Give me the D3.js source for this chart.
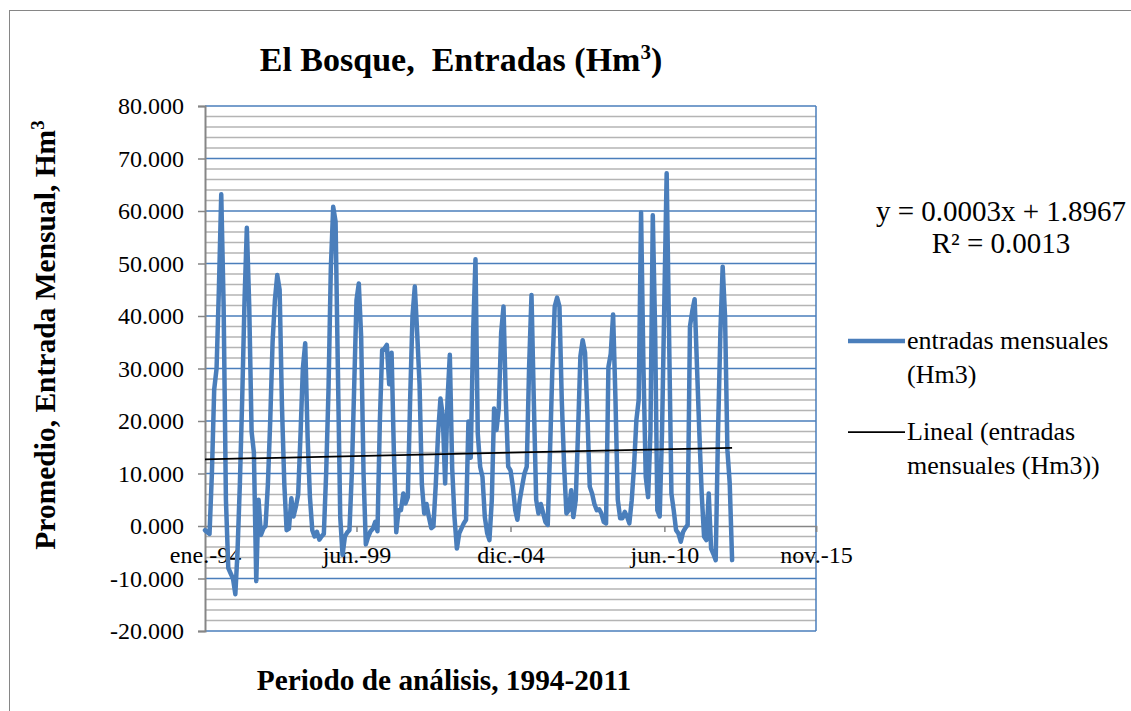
<!DOCTYPE html>
<html>
<head>
<meta charset="utf-8">
<script src="https://cdn.jsdelivr.net/npm/d3@7"></script>
<style>
body{margin:0;background:#fff;}
svg text{font-family:"Liberation Serif","Times New Roman",serif;fill:#000;}
</style>
</head>
<body>
<div class="chart"></div>
<script>
var width = 1131,
    height = 711;
var serif = '"Liberation Serif", "Times New Roman", serif';

// monthly inflow, from ene.-94
var startMonth = new Date(1994, 0, 1);
var entradas = [
 -0.8,-1.2,-1.5,10,26,30,45,63.2,42,5,-8,-9,
 -10,-13,-5,8,24,43,56.8,42,18,14,-10.5,5,
 -1.7,-0.5,0,8,20,35,43,47.8,45,23,8,-0.8,
 -0.5,5.3,1.8,3.7,6,17.6,30,34.8,17,5.6,-0.8,-2.0,
 -1.1,-2.6,-2.0,-1.5,10,26,49,60.8,58,30,1.7,-5.5,
 -2,-1.2,-0.8,10,26,43,46.2,36,10,-3.5,-2,-1,
 -0.5,0.8,-1,20,33.5,33.8,34.5,27,33,14,-1.2,3,
 3,6.2,4.3,5.5,24,40,45.6,36.8,27,8,2.4,4.2,
 1.7,-0.4,-0.1,8,17.6,24.3,21,8.1,24,32.6,11,1.7,
 -4.3,-1.4,-0.5,0.5,1.2,19.9,13,36.8,50.8,17.6,11.3,9.4,
 1.7,-1.4,-2.7,4.9,22.4,18.3,22.4,36.8,41.8,24,11.3,10.6,
 7.5,3,1.2,5,7.5,10,11.3,30.3,44,24,5,2.4,
 4.2,2.4,0.8,0.2,14.4,30.3,41.8,43.5,41.8,24,11.3,2.4,
 3,6.8,1.7,4.9,17.6,32.3,35.4,33,21,7.5,6.2,4.2,
 3,3.2,2.4,0.8,0.5,30.3,32.8,40.3,24,5,1.5,1.5,
 2.7,1.7,0.5,4.9,11.3,20.2,24,59.7,30.3,9.4,5.5,17.6,
 59.2,36.8,3,1.8,17.6,43,67.2,36.8,6.2,3,-0.8,-1.4,
 -3,-1.1,-0.4,0.2,38,41,43.2,30.3,17.6,6.2,-2,-2.7,
 6.2,-4.3,-5.3,-6.5,17.6,36.8,49.4,39.9,14.4,8.1,-6.5
];

// linear trend (value at first and last month)
var trendValues = [12.7, 14.9];
var trendLabel = ["y = 0.0003x + 1.8967", "R\u00b2 = 0.0013"];

var yMajor = [-20, -10, 0, 10, 20, 30, 40, 50, 60, 70, 80];
var xTickDates = [new Date(1994,0,1), new Date(1999,5,1), new Date(2004,11,1), new Date(2010,5,1), new Date(2015,10,1)];
var xTickLabels = ["ene.-94", "jun.-99", "dic.-04", "jun.-10", "nov.-15"];

var data = entradas.map(function(v, i){
  return {date: d3.timeMonth.offset(startMonth, i), value: v};
});

var svg = d3.select(".chart").append("svg")
    .attr("width", width)
    .attr("height", height);

// outer chart frame
svg.append("rect")
    .attr("x", 9.5).attr("y", 10.5)
    .attr("width", 1130).attr("height", 710)
    .attr("fill", "none").attr("stroke", "#868686").attr("stroke-width", 1);

var plot = {left: 205, right: 816, top: 106, bottom: 631};

var x = d3.scaleTime()
    .domain([xTickDates[0], xTickDates[4]])
    .range([plot.left, plot.right]);
var y = d3.scaleLinear()
    .domain([-20, 80])
    .range([plot.bottom, plot.top]);

// minor gridlines every 2
var minor = d3.range(-20, 80.1, 2).filter(function(d){ return d % 10 !== 0; });
svg.append("g").selectAll("line")
    .data(minor).enter().append("line")
    .attr("x1", plot.left).attr("x2", plot.right)
    .attr("y1", function(d){ return y(d); })
    .attr("y2", function(d){ return y(d); })
    .attr("stroke", "#b4b4b4").attr("stroke-width", 1.5);

// major gridlines
svg.append("g").selectAll("line")
    .data(yMajor.filter(function(d){ return d !== 0; })).enter().append("line")
    .attr("x1", plot.left).attr("x2", plot.right)
    .attr("y1", function(d){ return y(d); })
    .attr("y2", function(d){ return y(d); })
    .attr("stroke", "#4a7ebb").attr("stroke-width", 1.5);

// plot border right
svg.append("line")
    .attr("x1", plot.right).attr("x2", plot.right)
    .attr("y1", plot.top).attr("y2", plot.bottom)
    .attr("stroke", "#4a7ebb").attr("stroke-width", 1.5);

// y axis
var fmt = d3.format(".3f");
var yAxis = svg.append("g")
    .attr("transform", "translate(" + plot.left + ",0)")
    .call(d3.axisLeft(y).tickValues(yMajor).tickSize(7).tickPadding(14)
      .tickFormat(function(d){ return fmt(d).replace("\u2212", "-"); }));
yAxis.attr("font-family", serif).attr("font-size", 24);
yAxis.select(".domain").attr("stroke", "#868686").attr("stroke-width", 2);
yAxis.selectAll(".tick line").attr("stroke", "#868686").attr("stroke-width", 1.5);
yAxis.selectAll(".tick text").attr("fill", "#000");

// x axis at zero
var xAxis = svg.append("g")
    .attr("transform", "translate(0," + y(0) + ")")
    .call(d3.axisBottom(x).tickValues(xTickDates).tickSize(6).tickPadding(14)
      .tickFormat(function(d, i){ return xTickLabels[i]; }));
xAxis.attr("font-family", serif).attr("font-size", 24);
xAxis.select(".domain").attr("stroke", "#868686").attr("stroke-width", 1.5);
xAxis.selectAll(".tick line").attr("stroke", "#868686").attr("stroke-width", 1.5);
xAxis.selectAll(".tick text").attr("fill", "#000");

// series
var line = d3.line()
    .x(function(d){ return x(d.date); })
    .y(function(d){ return y(d.value); });

svg.append("path")
    .datum(data)
    .attr("d", line)
    .attr("fill", "none")
    .attr("stroke", "#4a7ebb")
    .attr("stroke-width", 4.5)
    .attr("stroke-linejoin", "round")
    .attr("stroke-linecap", "round");

// trend
var trendData = [
  {date: data[0].date, value: trendValues[0]},
  {date: data[data.length - 1].date, value: trendValues[1]}
];
svg.append("path")
    .datum(trendData)
    .attr("d", line)
    .attr("fill", "none")
    .attr("stroke", "#000")
    .attr("stroke-width", 1.75);

// title
var title = svg.append("text")
    .attr("x", 461).attr("y", 71)
    .attr("text-anchor", "middle")
    .attr("font-family", serif)
    .style("font-size", "34px").style("font-weight", "bold");
title.append("tspan").text("El Bosque,\u00a0 Entradas (Hm");
title.append("tspan").attr("dy", -12).style("font-size", "21px").text("3");
title.append("tspan").attr("dy", 12).text(")");

// axis titles
var yt = svg.append("text")
    .attr("transform", "translate(55,335) rotate(-90)")
    .attr("text-anchor", "middle")
    .attr("font-family", serif)
    .style("font-size", "29.5px").style("font-weight", "bold");
yt.append("tspan").text("Promedio, Entrada Mensual, Hm");
yt.append("tspan").attr("dy", -11).style("font-size", "19px").text("3");

svg.append("text")
    .attr("x", 444).attr("y", 690)
    .attr("text-anchor", "middle")
    .attr("font-family", serif)
    .style("font-size", "29.3px").style("font-weight", "bold")
    .text("Periodo de análisis, 1994-2011");

// equation
svg.selectAll(".eq")
    .data(trendLabel).enter().append("text")
    .attr("class", "eq")
    .attr("x", 1001)
    .attr("y", function(d, i){ return 221 + i * 32; })
    .attr("text-anchor", "middle")
    .attr("font-family", serif)
    .style("font-size", "29px")
    .text(function(d){ return d; });

// legend
var legend = [
  {color: "#4a7ebb", w: 4.5, lines: ["entradas mensuales", "(Hm3)"], y: 341},
  {color: "#000", w: 1.75, lines: ["Lineal (entradas", "mensuales (Hm3))"], y: 432}
];
var lg = svg.selectAll(".lg").data(legend).enter().append("g").attr("class", "lg");
lg.append("line")
    .attr("x1", 848).attr("x2", 905)
    .attr("y1", function(d){ return d.y; }).attr("y2", function(d){ return d.y; })
    .attr("stroke", function(d){ return d.color; })
    .attr("stroke-width", function(d){ return d.w; });
lg.each(function(d){
  var t = d3.select(this).append("text")
      .attr("x", 907).attr("y", d.y + 8)
      .attr("font-family", serif)
      .style("font-size", "26px");
  d.lines.forEach(function(s, i){
    t.append("tspan").attr("x", 907).attr("dy", i ? 34 : 0).text(s);
  });
});
</script>
</body>
</html>
